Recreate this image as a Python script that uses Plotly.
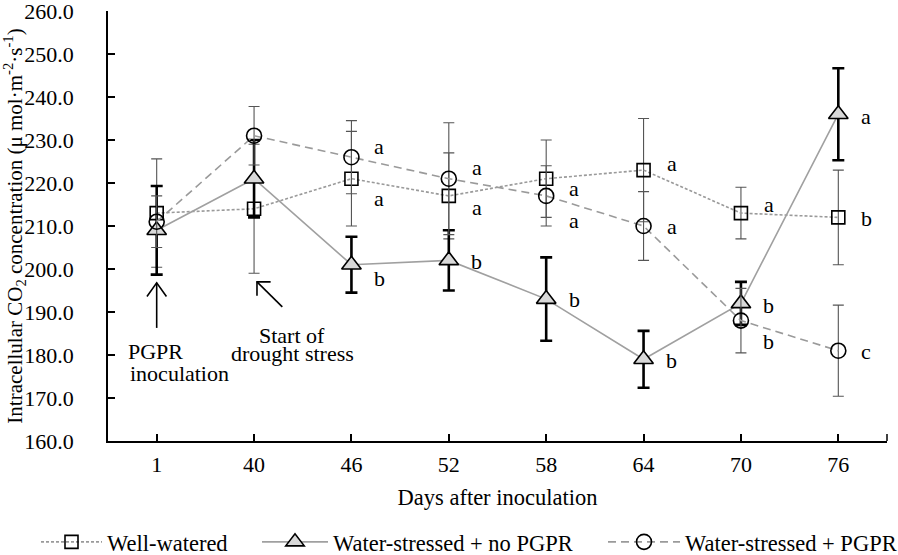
import plotly.graph_objects as go

days = ["1", "40", "46", "52", "58", "64", "70", "76"]

ww_vals = [213, 214, 221, 217, 221, 223, 213, 212]
ww_err = [12.6, 15, 11, 10, 9, 12, 6, 11]
ws_vals = [209, 221, 201, 202, 193, 179, 192, 236]
ws_err = [10.3, 9, 6.5, 7, 9.7, 6.6, 5, 10.7]
wp_vals = [211, 231, 226, 221, 217, 210, 188, 181]
wp_err = [6, 6.8, 8.5, 13, 7, 8, 7.5, 10.6]

# significance letters (from day 46 on)
ww_letters = ["", "", "a", "a", "a", "a", "a", "b"]
ww_letter_y = [None, None, 216.4, 214.4, 218.8, 224.6, 214.9, 211.8]
ws_letters = ["", "", "b", "b", "b", "b", "b", "a"]
ws_letter_y = [None, None, 197.8, 201.7, 192.8, 178.8, 191.6, 235.4]
wp_letters = ["", "", "a", "a", "a", "a", "b", "c"]
wp_letter_y = [None, None, 228.4, 223.5, 211.2, 209.8, 183.1, 180.8]

FONT = "Liberation Serif"
FS = 22
xs = list(range(len(days)))

fig = go.Figure()

fig.add_trace(go.Scatter(
    x=xs, y=ww_vals, name="Well-watered", mode="lines+markers", legend="legend",
    line=dict(color="#9a9a9a", width=1.6, dash="3px,2px"),
    marker=dict(symbol="square-open", size=13, color="black", line=dict(width=1.6, color="black")),
    error_y=dict(type="data", array=ww_err, visible=True, color="#555555", thickness=1.1, width=5.5),
))
fig.add_trace(go.Scatter(
    x=xs, y=ws_vals, name="Water-stressed + no PGPR", mode="lines+markers", legend="legend2",
    line=dict(color="#a0a0a0", width=1.6),
    marker=dict(symbol="triangle-up", size=17, color="#d9d9d9", line=dict(width=1.6, color="black")),
    error_y=dict(type="data", array=ws_err, visible=True, color="black", thickness=2.6, width=6),
))
fig.add_trace(go.Scatter(
    x=xs, y=wp_vals, name="Water-stressed + PGPR", mode="lines+markers", legend="legend3",
    line=dict(color="#9a9a9a", width=1.6, dash="8px,5px"),
    marker=dict(symbol="circle-open", size=15, color="black", line=dict(width=1.6, color="black")),
    error_y=dict(type="data", array=wp_err, visible=True, color="#555555", thickness=1.1, width=5.5),
))

annotations = []
for letters, ly in ((ww_letters, ww_letter_y), (ws_letters, ws_letter_y), (wp_letters, wp_letter_y)):
    for i, (t, y) in enumerate(zip(letters, ly)):
        if t:
            annotations.append(dict(x=i, y=y, text=t, showarrow=False, xshift=28,
                                    font=dict(family=FONT, size=FS, color="black")))

note_font = dict(family=FONT, size=FS, color="black")
annotations += [
    dict(x=0, y=180.7, text="PGPR", showarrow=False, xshift=-31, xanchor="left", yanchor="middle", font=note_font),
    dict(x=0, y=175.6, text="inoculation", showarrow=False, xshift=-29, xanchor="left", yanchor="middle", font=note_font),
    dict(x=1.39, y=184.6, text="Start of", showarrow=False, xanchor="center", yanchor="middle", font=note_font),
    dict(x=1.39, y=180.4, text="drought stress", showarrow=False, xanchor="center", yanchor="middle", font=note_font),
]

shapes = [
    dict(type="path", xref="x", yref="y", path="M 0,186.3 L 0,196.8", line=dict(color="black", width=1.6)),
    dict(type="path", xref="x", yref="y", path="M -0.1,193.6 L 0,196.8 L 0.1,193.6", line=dict(color="black", width=1.6)),
    dict(type="path", xref="x", yref="y", path="M 1.29,191.2 L 1.03,197.0", line=dict(color="black", width=1.6)),
    dict(type="path", xref="x", yref="y", path="M 1.03,193.8 L 1.03,197.0 L 1.17,197.0", line=dict(color="black", width=1.6)),
    # small end tick at the right end of the x axis
    dict(type="line", xref="paper", yref="paper", x0=1, x1=1, y0=0, y1=0.016, line=dict(color="black", width=1.5)),
]

leg_common = dict(orientation="h", xanchor="left", xref="container", y=0.023, yanchor="middle",
                  yref="container", font=dict(family=FONT, size=22.5, color="black"),
                  bgcolor="rgba(0,0,0,0)")

fig.update_layout(
    width=898, height=555,
    margin=dict(l=108, r=11, t=11, b=114, autoexpand=False),
    paper_bgcolor="white", plot_bgcolor="white",
    font=dict(family=FONT, size=FS, color="black"),
    showlegend=True,
    legend=dict(x=36 / 898, itemwidth=61, **leg_common),
    legend2=dict(x=257 / 898, itemwidth=66, **leg_common),
    legend3=dict(x=603 / 898, itemwidth=72, **leg_common),
    annotations=annotations,
    shapes=shapes,
)
fig.update_xaxes(
    range=[-0.5, 7.5], tickmode="array", tickvals=xs, ticktext=days,
    showline=True, linecolor="black", linewidth=1.5, ticks="inside", ticklen=7,
    tickcolor="black", tickwidth=1.5, showgrid=False, zeroline=False, automargin=False,
    ticklabelstandoff=3,
    title=dict(text="Days after inoculation", font=dict(family=FONT, size=22.5), standoff=13),
)
fig.update_yaxes(
    range=[160, 260], dtick=10, tick0=160, tickformat=".1f",
    showline=True, linecolor="black", linewidth=1.5, ticks="inside", ticklen=7,
    tickcolor="black", tickwidth=1.5, showgrid=False, zeroline=False, automargin=False,
    ticklabelstandoff=28, ticklabeloverflow="allow",
    title=dict(text="Intracellular CO<sub>2</sub> concentration (μ mol·m<sup>-2</sup>·s<sup>-1</sup>)",
               font=dict(family=FONT, size=21), standoff=2),
)

fig.write_html("out.html", config={"displayModeBar": False},
               post_script="document.body.style.margin='0';")
